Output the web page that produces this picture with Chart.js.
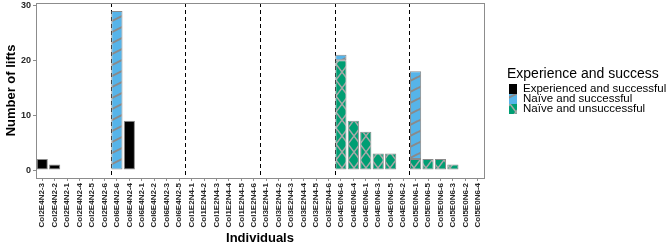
<!DOCTYPE html>
<html>
<head>
<meta charset="utf-8">
<script src="https://cdn.jsdelivr.net/npm/chart.js@4.4.1/dist/chart.umd.min.js"></script>
<style>
html,body{margin:0;padding:0;background:#fff}
#wrap{width:669px;height:246px}
</style>
</head>
<body>
<div id="wrap"><canvas id="chart"></canvas></div>
<script>
const individuals = [
  "Col2E4N2-3","Col2E4N2-2","Col2E4N2-1","Col2E4N2-4","Col2E4N2-5","Col2E4N2-6",
  "Col6E4N2-6","Col6E4N2-4","Col6E4N2-1","Col6E4N2-2","Col6E4N2-3","Col6E4N2-5",
  "Col1E2N4-1","Col1E2N4-2","Col1E2N4-3","Col1E2N4-4","Col1E2N4-5","Col1E2N4-6",
  "Col3E2N4-1","Col3E2N4-2","Col3E2N4-3","Col3E2N4-4","Col3E2N4-5","Col3E2N4-6",
  "Col4E0N6-6","Col4E0N6-4","Col4E0N6-1","Col4E0N6-3","Col4E0N6-5","Col4E0N6-2",
  "Col5E0N6-1","Col5E0N6-5","Col5E0N6-6","Col5E0N6-3","Col5E0N6-2","Col5E0N6-4"
];
const experienced = [
  2,1,0,0,0,0,
  0,9,0,0,0,0,
  0,0,0,0,0,0,
  0,0,0,0,0,0,
  0,0,0,0,0,0,
  0,0,0,0,0,0
];
const naiveSuccessful = [
  0,0,0,0,0,0,
  29,0,0,0,0,0,
  0,0,0,0,0,0,
  0,0,0,0,0,0,
  1,0,0,0,0,0,
  16,0,0,0,0,0
];
const naiveUnsuccessful = [
  0,0,0,0,0,0,
  0,0,0,0,0,0,
  0,0,0,0,0,0,
  0,0,0,0,0,0,
  20,9,7,3,3,0,
  2,2,2,1,0,0
];
const seriesNames = ["Experienced and successful","Naïve and successful","Naïve and unsuccessful"];
const legendTitle = "Experience and success";
const yTicks = [0,10,20,30];
const groupSize = 6;

const FONT = '"Liberation Sans", Arial, sans-serif';

function stripePattern(){
  const c = document.createElement("canvas");
  c.width = 22; c.height = 11;
  const g = c.getContext("2d");
  g.fillStyle = "#56B4E9";
  g.fillRect(0,0,22,11);
  g.strokeStyle = "#8a8a8a";
  g.lineWidth = 2;
  for(let k=-1;k<=1;k++){
    g.beginPath();
    g.moveTo(0,11+k*11);
    g.lineTo(22,0+k*11);
    g.stroke();
  }
  return g.createPattern(c,"repeat");
}
function crossPattern(){
  const w=12,h=16;
  const c = document.createElement("canvas");
  c.width = w; c.height = h;
  const g = c.getContext("2d");
  g.fillStyle = "#009E73";
  g.fillRect(0,0,w,h);
  g.strokeStyle = "#a8a8a8";
  g.lineWidth = 1.5;
  for(let k=-1;k<=1;k++){
    g.beginPath();
    g.moveTo(0,h+k*h); g.lineTo(w,0+k*h);
    g.moveTo(0,0+k*h); g.lineTo(w,h+k*h);
    g.stroke();
  }
  return g.createPattern(c,"repeat");
}

const blueFill = stripePattern();
const greenFill = crossPattern();

const frameAndDashes = {
  id:"frameAndDashes",
  beforeDatasetsDraw(chart){
    const {ctx, chartArea:a, scales:{x}} = chart;
    ctx.save();
    ctx.strokeStyle = "#000";
    ctx.lineWidth = 1;
    ctx.setLineDash([4,3]);
    for(let i=groupSize;i<individuals.length;i+=groupSize){
      const px = Math.round((x.getPixelForValue(i-1)+x.getPixelForValue(i))/2)+0.5;
      ctx.beginPath();
      ctx.moveTo(px,a.top);
      ctx.lineTo(px,a.bottom);
      ctx.stroke();
    }
    ctx.restore();
  },
  afterDraw(chart){
    const {ctx, chartArea:a} = chart;
    ctx.save();
    ctx.strokeStyle = "#8c8c8c";
    ctx.lineWidth = 1;
    ctx.strokeRect(Math.round(a.left)+0.5, Math.round(a.top)+0.5, Math.round(a.right-a.left), Math.round(a.bottom-a.top));
    ctx.restore();
  }
};

const sideLegend = {
  id:"sideLegend",
  afterDraw(chart){
    const ctx = chart.ctx;
    const ds = chart.data.datasets;
    const order = [0,2,1];
    ctx.save();
    ctx.fillStyle = "#000";
    ctx.textBaseline = "alphabetic";
    ctx.font = "14px " + FONT;
    ctx.fillText(legendTitle, 507, 78);
    ctx.font = "11.5px " + FONT;
    ctx.textBaseline = "middle";
    order.forEach((di,i)=>{
      const y0 = 84 + i*10;
      ctx.fillStyle = ds[di].backgroundColor;
      ctx.fillRect(509, y0, 8, 10);
      ctx.fillStyle = "#000";
      ctx.fillText(ds[di].label, 523, y0+5);
    });
    ctx.restore();
  }
};

new Chart(document.getElementById("chart"),{
  type:"bar",
  data:{
    labels:individuals,
    datasets:[
      {label:seriesNames[0], data:experienced, backgroundColor:"#000000"},
      {label:seriesNames[2], data:naiveUnsuccessful, backgroundColor:greenFill},
      {label:seriesNames[1], data:naiveSuccessful, backgroundColor:blueFill}
    ]
  },
  options:{
    responsive:true,
    maintainAspectRatio:false,
    animation:false,
    datasets:{bar:{
      barPercentage:0.9,
      categoryPercentage:1,
      borderColor:"#8a8a8a",
      borderWidth:1,
      borderSkipped:false,
      inflateAmount:0
    }},
    layout:{padding:{left:0,top:3,right:185,bottom:0}},
    plugins:{legend:{display:false},tooltip:{enabled:false}},
    scales:{
      x:{
        stacked:true,
        offset:true,
        grid:{offset:false,drawOnChartArea:false,drawTicks:true,tickLength:3,color:"#8c8c8c"},
        border:{display:false},
        ticks:{autoSkip:false,minRotation:90,maxRotation:90,padding:2,color:"#262626",font:{family:FONT,size:8,weight:"bold"}},
        title:{display:true,text:"Individuals",color:"#000",padding:{top:0,bottom:0},font:{family:FONT,size:13,weight:"bold"}},
        afterFit(s){ s.height = 68; s.paddingLeft = 0; s.paddingRight = 0; }
      },
      y:{
        stacked:true,
        min:-1.45,
        max:30.45,
        afterBuildTicks(s){ s.ticks = yTicks.map(v=>({value:v})); },
        grid:{drawOnChartArea:false,drawTicks:true,tickLength:3,color:"#8c8c8c"},
        border:{display:false},
        ticks:{padding:2,color:"#262626",font:{family:FONT,size:9,weight:"bold"}},
        title:{display:true,text:"Number of lifts",color:"#000",padding:{top:4,bottom:0},font:{family:FONT,size:13,weight:"bold"}},
        afterFit(s){ s.width = 36; s.paddingTop = 0; s.paddingBottom = 0; }
      }
    }
  },
  plugins:[frameAndDashes, sideLegend]
});
</script>
</body>
</html>
